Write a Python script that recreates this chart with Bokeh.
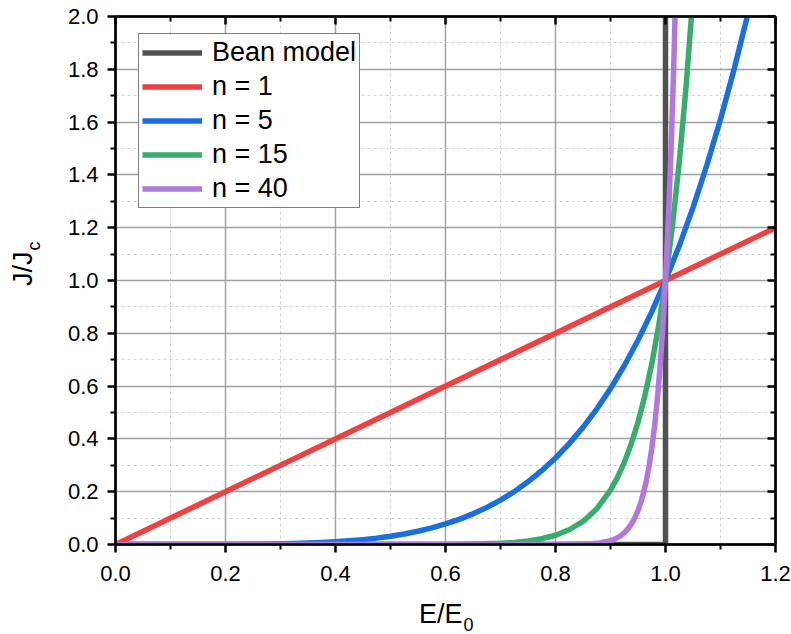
import math
from bokeh.plotting import figure
from bokeh.layouts import row, column
from bokeh.models import (Range1d, LinearAxis, FixedTicker, PrintfTickFormatter,
                          Legend, CustomLabelingPolicy)
from bokeh.core.properties import value
from bokeh.embed import file_html
from bokeh.resources import INLINE

# ---- data ----
bean_x = [0.0, 1.0, 1.0]
bean_y = [0.0, 0.0, 2.05]

n1_x = [0.0, 1.2]
n1_y = [0.0, 1.2]

n5_x = [0.0, 0.1, 0.2, 0.3, 0.325, 0.35, 0.375, 0.4, 0.425, 0.45, 0.475, 0.5, 0.525, 0.55,
        0.575, 0.6, 0.625, 0.65, 0.675, 0.7, 0.725, 0.75, 0.775, 0.8, 0.825, 0.85, 0.875,
        0.9, 0.925, 0.95, 0.975, 1.0, 1.025, 1.05, 1.075, 1.1, 1.125, 1.15, 1.16]
n5_y = [0.0, 0.00001, 0.00032, 0.00243, 0.00363, 0.00525, 0.00742, 0.01024, 0.01387,
        0.01845, 0.02418, 0.03125, 0.03988, 0.05033, 0.06286, 0.07776, 0.09537, 0.11603,
        0.14013, 0.16807, 0.20030, 0.23731, 0.27958, 0.32768, 0.38218, 0.44371, 0.51291,
        0.59049, 0.67719, 0.77378, 0.88110, 1.0, 1.13141, 1.27628, 1.43563, 1.61051,
        1.80203, 2.01136, 2.10]

n15_x = [0.0, 0.5, 0.6, 0.65, 0.7, 0.725, 0.75, 0.775, 0.8, 0.825, 0.85, 0.875, 0.9,
         0.9125, 0.925, 0.9375, 0.95, 0.9625, 0.975, 0.9875, 1.0, 1.0125, 1.025, 1.0375,
         1.05]
n15_y = [0.0, 0.00003, 0.00047, 0.00160, 0.00475, 0.00804, 0.01336, 0.02186, 0.03518,
         0.05581, 0.08735, 0.13493, 0.20589, 0.25324, 0.31054, 0.37981, 0.46329, 0.56364,
         0.68402, 0.82805, 1.0, 1.20482, 1.44830, 1.73713, 2.07893]

n40_x = [0.0, 0.8, 0.86, 0.88, 0.9, 0.905, 0.91, 0.915, 0.92, 0.925, 0.93, 0.935, 0.94,
         0.945, 0.95, 0.955, 0.96, 0.965, 0.97, 0.975, 0.98, 0.985, 0.99, 0.995, 1.0,
         1.005, 1.01, 1.015, 1.02]
n40_y = [0.0, 0.00013, 0.00240, 0.00600, 0.01478, 0.01845, 0.02299, 0.02862, 0.03560,
         0.04421, 0.05489, 0.06800, 0.08416, 0.10408, 0.12851, 0.15856, 0.19537, 0.24047,
         0.29571, 0.36323, 0.44570, 0.54631, 0.66897, 0.81832, 1.0, 1.22079, 1.48886,
         1.81399, 2.20804]

series_names = ["Bean model", "n = 1", "n = 5", "n = 15", "n = 40"]
series_x = [bean_x, n1_x, n5_x, n15_x, n40_x]
series_y = [bean_y, n1_y, n5_y, n15_y, n40_y]
series_colors = ["#515151", "#F14040", "#1A6FDF", "#37AD6B", "#B177DE"]

x_major_ticks = [0.0, 0.2, 0.4, 0.6, 0.8, 1.0, 1.2]
x_minor_ticks = [0.1, 0.3, 0.5, 0.7, 0.9, 1.1]
y_major_ticks = [0.0, 0.2, 0.4, 0.6, 0.8, 1.0, 1.2, 1.4, 1.6, 1.8, 2.0]
y_minor_ticks = [0.1, 0.3, 0.5, 0.7, 0.9, 1.1, 1.3, 1.5, 1.7, 1.9]
x_title, x_sub = "E/E", "0"
y_title, y_sub = "J/J", "c"

FONT = "Liberation Sans"
LEFT_W = 45
TOP_H = 600
BOT_H = 34
TOTAL_W = 791
TOTAL_H = TOP_H + BOT_H

p = figure(width=TOTAL_W - LEFT_W, height=TOP_H, output_backend="svg", toolbar_location=None,
           x_range=Range1d(0, 1.2), y_range=Range1d(0, 2.0),
           min_border_left=115 - LEFT_W, min_border_right=16, min_border_top=16,
           min_border_bottom=TOP_H - 544,
           x_axis_location=None, y_axis_location=None)
p.background_fill_color = "white"
p.border_fill_color = "white"
p.outline_line_color = "black"
p.outline_line_width = 2

xt = FixedTicker(ticks=x_major_ticks, minor_ticks=x_minor_ticks)
yt = FixedTicker(ticks=y_major_ticks, minor_ticks=y_minor_ticks)

def style_axis(ax, inward=False):
    ax.axis_line_width = 2.5
    ax.axis_line_color = "black"
    ax.major_tick_line_width = 2.5
    ax.minor_tick_line_width = 2
    ax.major_tick_line_color = "black"
    ax.minor_tick_line_color = "black"
    if inward:
        ax.major_tick_in = 8
        ax.major_tick_out = 0
        ax.minor_tick_in = 5
        ax.minor_tick_out = 0
        ax.major_label_policy = CustomLabelingPolicy(code="return new Set()")
        ax.major_label_text_font_size = "0px"
        ax.major_label_standoff = 0
    else:
        ax.major_tick_in = 0
        ax.major_tick_out = 8
        ax.minor_tick_in = 0
        ax.minor_tick_out = 5
        ax.major_label_text_font = FONT
        ax.major_label_text_font_size = "22px"
        ax.major_label_text_color = "black"

xb = LinearAxis(ticker=xt, formatter=PrintfTickFormatter(format="%.1f"))
style_axis(xb)
xb.major_label_standoff = 13
p.add_layout(xb, "below")
yl = LinearAxis(ticker=yt, formatter=PrintfTickFormatter(format="%.1f"))
style_axis(yl)
yl.major_label_standoff = 9
p.add_layout(yl, "left")
xtop = LinearAxis(ticker=xt)
style_axis(xtop, inward=True)
p.add_layout(xtop, "above")
yr = LinearAxis(ticker=yt)
style_axis(yr, inward=True)
p.add_layout(yr, "right")

p.xgrid.ticker = xt
p.ygrid.ticker = yt
for g in (p.xgrid, p.ygrid):
    g.grid_line_color = "#a0a0a0"
    g.grid_line_width = 1.5
    g.minor_grid_line_color = "#cfcfcf"
    g.minor_grid_line_width = 1
    g.minor_grid_line_dash = "3 3"

items = []
for name, xs, ys, col in zip(series_names, series_x, series_y, series_colors):
    r = p.line(xs, ys, line_color=col, line_width=5.5, line_join="round")
    items.append((name, [r]))

legend = Legend(items=items, location=(23, 336))
legend.label_text_font = FONT
legend.label_text_font_size = "27px"
legend.label_text_color = "black"
legend.border_line_color = "black"
legend.border_line_width = 1
legend.background_fill_color = "white"
legend.background_fill_alpha = 1
legend.glyph_width = 60
legend.glyph_height = 31
legend.label_height = 31
legend.spacing = 3
legend.padding = 3
legend.margin = 0
legend.label_standoff = 10
p.add_layout(legend, "center")


def blank_fig(w, h):
    f = figure(width=w, height=h, output_backend="svg", toolbar_location=None,
               x_range=Range1d(0, w), y_range=Range1d(0, h), min_border=0,
               x_axis_location=None, y_axis_location=None)
    f.outline_line_color = None
    f.background_fill_color = "white"
    f.border_fill_color = "white"
    f.grid.visible = False
    return f

# left strip: y-axis title J/Jc (coordinates are pixels inside this strip)
left = blank_fig(LEFT_W, TOP_H)
left.text(x=[22.6], y=[TOP_H - 267], text=[y_title], angle=math.pi / 2,
          text_align="right", text_baseline="middle",
          text_font=value(FONT), text_font_size="27px", text_color="black")
left.text(x=[33.8], y=[TOP_H - 266], text=[y_sub], angle=math.pi / 2,
          text_align="left", text_baseline="middle",
          text_font=value(FONT), text_font_size="18px", text_color="black")

# bottom strip: x-axis title E/E0
bottom = blank_fig(TOTAL_W, BOT_H)
bottom.text(x=[462], y=[TOTAL_H - 613.6], text=[x_title],
            text_align="right", text_baseline="middle",
            text_font=value(FONT), text_font_size="27px", text_color="black")
bottom.text(x=[463], y=[TOTAL_H - 623.8], text=[x_sub],
            text_align="left", text_baseline="middle",
            text_font=value(FONT), text_font_size="18px", text_color="black")

layout = column(row(left, p), bottom)

open("out.html", "w").write(file_html(layout, INLINE))
